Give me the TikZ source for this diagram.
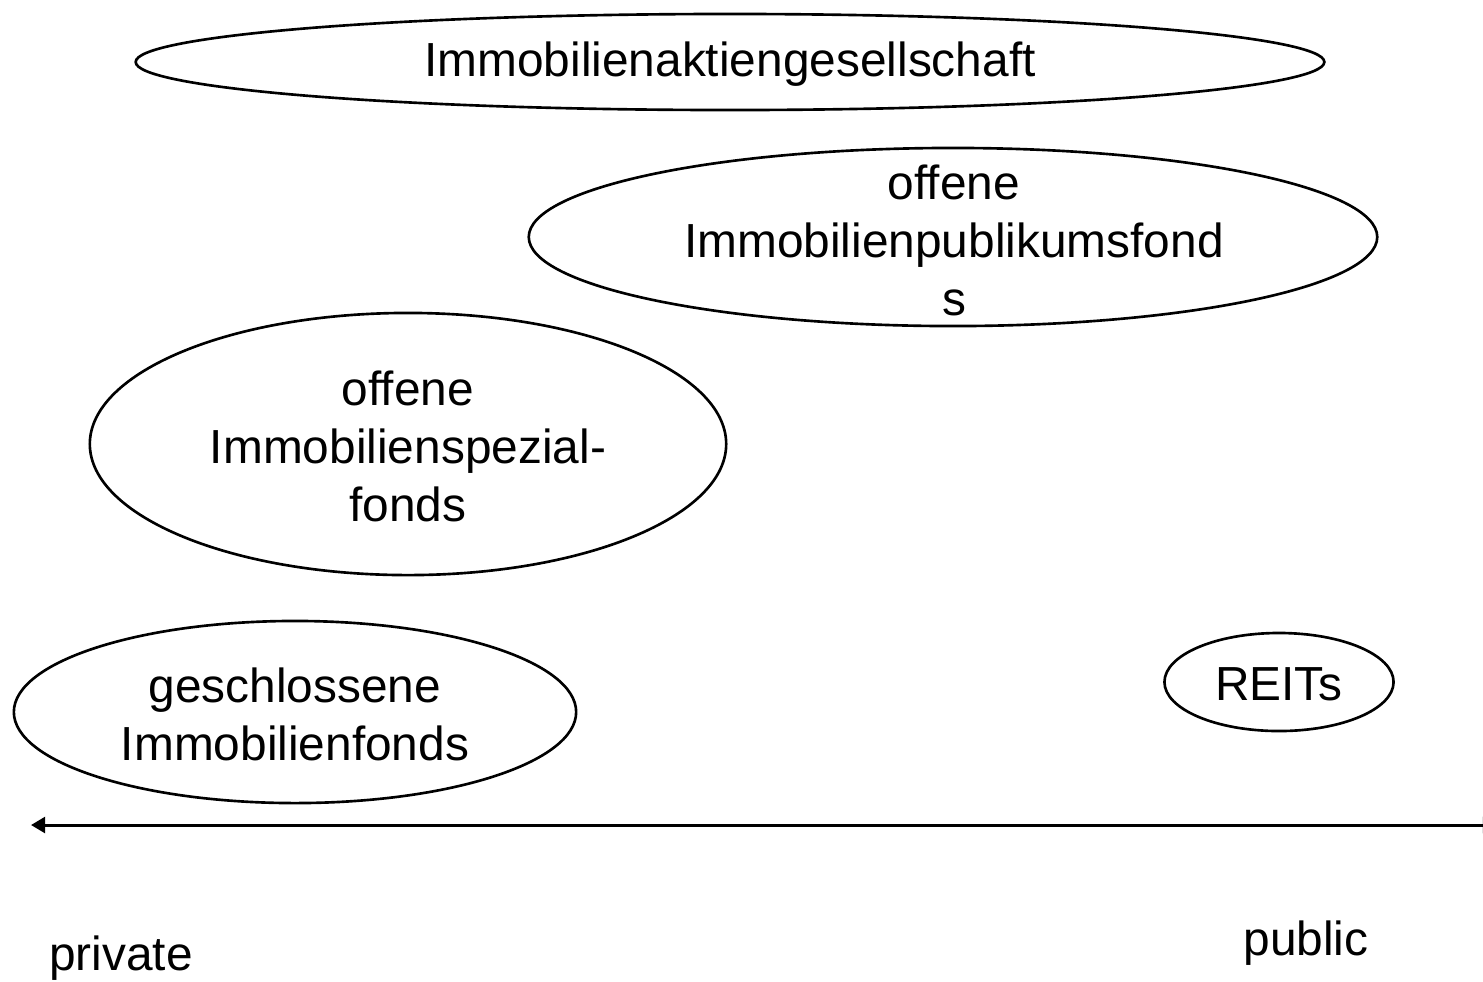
\documentclass[tikz,border=0pt]{standalone}
\usepackage{fontspec}
\setmainfont[Ligatures=NoCommon]{Liberation Sans}
\usetikzlibrary{arrows.meta}

\tikzset{
  fundtext/.style={align=center, inner sep=0pt, font=\fontsize{13.6}{16.5}\selectfont},
  outline/.style={line width=0.75pt},
  axislabel/.style={font=\fontsize{13.6}{16.5}\selectfont},
}

\begin{document}
\begin{tikzpicture}[x=0.01cm, y=-0.01cm]
  \useasboundingbox (0,0) rectangle (1483,981);
  % Fund types
  \node[fundtext] (ag) at (730,64) {Immobilienaktiengesellschaft};
  \node[fundtext] (publikum) at (954,240) {offene\\Immobilienpublikumsfond\\s};
  \node[fundtext] (spezial) at (408,446) {offene\\Immobilienspezial-\\fonds};
  \node[fundtext] (geschl) at (295,714) {geschlossene\\Immobilienfonds};
  \node[fundtext] (reits) at (1279,684) {REITs};

  % Outlines
  \draw[outline] (730,62) ellipse [x radius=5.94cm, y radius=0.48cm];
  \draw[outline] (953,237) ellipse [x radius=4.24cm, y radius=0.89cm];
  \draw[outline] (408,444) ellipse [x radius=3.18cm, y radius=1.31cm];
  \draw[outline] (295,712) ellipse [x radius=2.81cm, y radius=0.91cm];
  \draw[outline] (1279,682) ellipse [x radius=1.145cm, y radius=0.49cm];

  % Axis
  \coordinate (left) at (31,825);
  \coordinate (right) at (1497,825);
  \draw[line width=0.85pt, {Triangle[length=4pt,width=4.5pt]}-{Triangle[length=4pt,width=4.5pt]}] (left) -- (right);
  \node[axislabel] (private) at (121,958) {private};
  \node[axislabel] (public) at (1306,943) {public};
\end{tikzpicture}
\end{document}
